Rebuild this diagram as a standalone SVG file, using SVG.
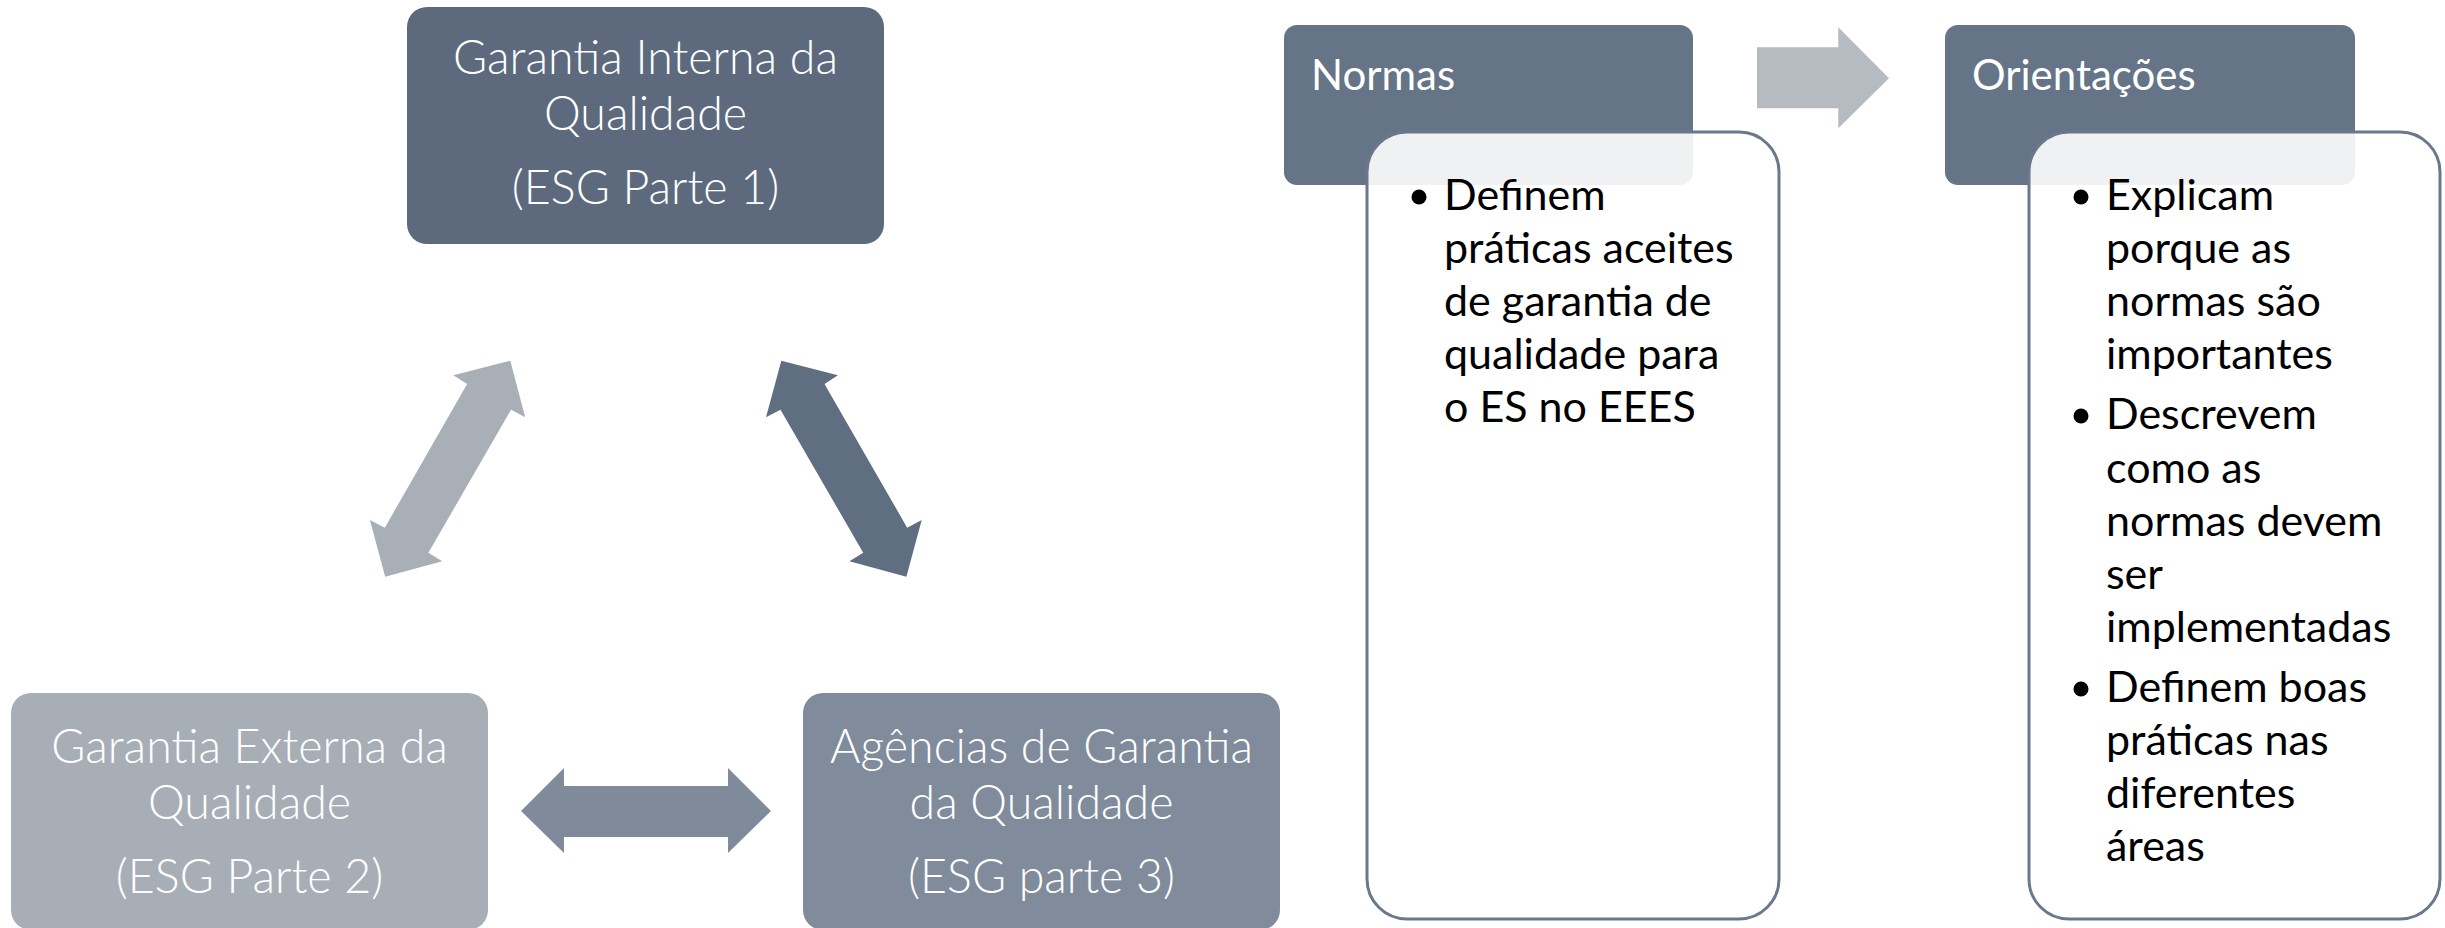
<svg xmlns="http://www.w3.org/2000/svg" width="2445" height="928" viewBox="0 0 2445 928">
<style>
.t{font-family:Lato,"Liberation Sans",sans-serif;font-weight:300;fill:#ffffff;font-size:46.5px;text-anchor:middle}
.h{font-family:Lato,"Liberation Sans",sans-serif;font-weight:400;fill:#ffffff;font-size:42px}
.b{font-family:Lato,"Liberation Sans",sans-serif;font-weight:400;fill:#000000;font-size:43px}
.card{fill:#ffffff;fill-opacity:0.9;stroke:#6b788b;stroke-width:3}
.hdr{fill:#657487}
</style>
<rect width="2445" height="928" fill="#ffffff"/>
<g id="node-interna">
<rect x="407" y="7" width="477" height="237" rx="20" fill="#5d6a7d"/>
<text class="t" x="645.5" y="74">Garantia Interna da</text>
<text class="t" x="645.5" y="130">Qualidade</text>
<text class="t" x="645.5" y="204">(ESG Parte 1)</text>
</g>
<g id="node-externa">
<rect x="11" y="693" width="477" height="237" rx="20" fill="#a8aeb6"/>
<text class="t" x="249.5" y="763">Garantia Externa da</text>
<text class="t" x="249.5" y="819">Qualidade</text>
<text class="t" x="249.5" y="893">(ESG Parte 2)</text>
</g>
<g id="node-agencias">
<rect x="803" y="693" width="477" height="237" rx="20" fill="#808c9b"/>
<text class="t" x="1041.5" y="763">Agências de Garantia</text>
<text class="t" x="1041.5" y="819">da Qualidade</text>
<text class="t" x="1041.5" y="893">(ESG parte 3)</text>
</g>
<g id="connectors">
<polygon fill="#a9afb7" points="510.3,360.7 453.3,375.3 467.1,384 384.8,527.7 369.9,520 385.2,576.7 442.2,561.3 428.4,552.7 511.1,409.7 525.2,417.3"/>
<polygon fill="#5f6e80" points="781.3,360.7 837.9,375.3 824.5,384 907.2,527.7 921.7,520 906.4,576.7 849.4,561.3 863.2,552.7 780.5,409.7 766,417.3"/>
<polygon fill="#7f8b9a" points="521,811 564,768 564,786 728,786 728,768 771,811 728,853 728,837 564,837 564,853"/>
<polygon fill="#b6bbc2" points="1757,47.3 1838.3,47.3 1838.3,27.3 1889,78.3 1838.3,128.3 1838.3,108.3 1757,108.3"/>
</g>
<g id="node-normas">
<rect class="hdr" x="1284" y="25" width="409" height="160" rx="13"/>
<text class="h" x="1311" y="90">Normas</text>
<rect class="card" x="1367" y="132" width="412" height="787" rx="40"/>
<circle cx="1419" cy="197" r="7.5" fill="#000000"/>
<text class="b" x="1444" y="210">Definem</text>
<text class="b" x="1444" y="263">práticas aceites</text>
<text class="b" x="1444" y="316">de garantia de</text>
<text class="b" x="1444" y="369">qualidade para</text>
<text class="b" x="1444" y="422">o ES no EEES</text>
</g>
<g id="node-orientacoes">
<rect class="hdr" x="1945" y="25" width="410" height="160" rx="13"/>
<text class="h" x="1972" y="90">Orientações</text>
<rect class="card" x="2029" y="132" width="411" height="787" rx="40"/>
<circle cx="2081" cy="197" r="7.5" fill="#000000"/>
<text class="b" x="2106" y="210">Explicam</text>
<text class="b" x="2106" y="263">porque as</text>
<text class="b" x="2106" y="316">normas são</text>
<text class="b" x="2106" y="369">importantes</text>
<circle cx="2081" cy="416" r="7.5" fill="#000000"/>
<text class="b" x="2106" y="429">Descrevem</text>
<text class="b" x="2106" y="483">como as</text>
<text class="b" x="2106" y="536">normas devem</text>
<text class="b" x="2106" y="589">ser</text>
<text class="b" x="2106" y="642">implementadas</text>
<circle cx="2081" cy="689" r="7.5" fill="#000000"/>
<text class="b" x="2106" y="702">Definem boas</text>
<text class="b" x="2106" y="755">práticas nas</text>
<text class="b" x="2106" y="808">diferentes</text>
<text class="b" x="2106" y="861">áreas</text>
</g>
</svg>
